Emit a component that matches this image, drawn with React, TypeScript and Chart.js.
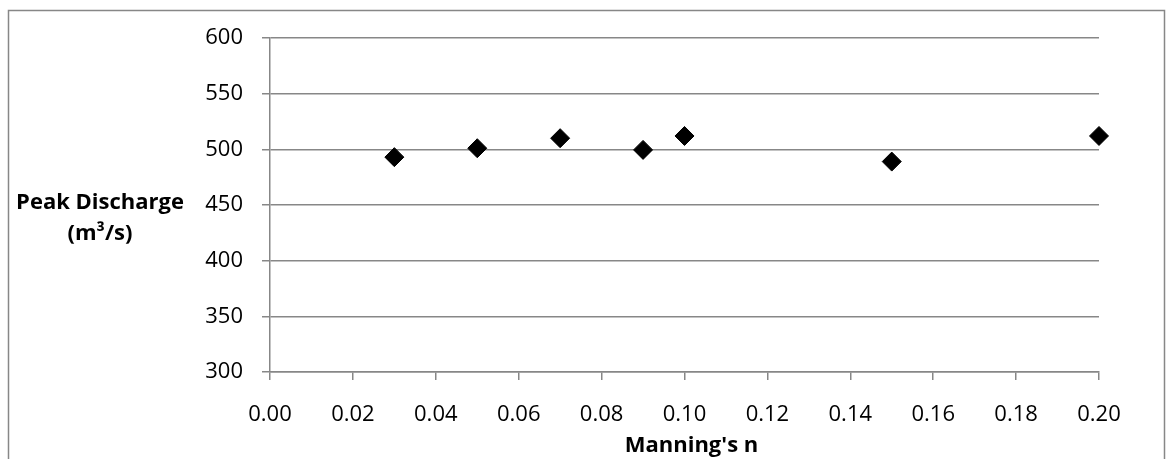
import React, { useEffect, useRef } from "react";
import { Chart, registerables } from "chart.js";

Chart.register(...registerables);

const manningN = [0.03, 0.05, 0.07, 0.09, 0.1, 0.15, 0.2];
const peakDischarge = [493, 501, 510, 499.5, 512, 489, 512];
const xTickValues = [0, 0.02, 0.04, 0.06, 0.08, 0.1, 0.12, 0.14, 0.16, 0.18, 0.2];
const xTickLabels = ["0.00", "0.02", "0.04", "0.06", "0.08", "0.10", "0.12", "0.14", "0.16", "0.18", "0.20"];
const yTickValues = [300, 350, 400, 450, 500, 550, 600];
const yTickLabels = ["300", "350", "400", "450", "500", "550", "600"];
const yTitleLines = ["Peak Discharge", "(m³/s)"];
const xTitle = "Manning's n";

const GRAY = "#878787";
const FONT = '"Open Sans", sans-serif';

const framePlugin = {
  id: "frameAndTitles",
  beforeDraw(chart: any) {
    const ctx = chart.ctx;
    ctx.save();
    ctx.fillStyle = "#ffffff";
    ctx.fillRect(0, 0, chart.width, chart.height);
    ctx.strokeStyle = GRAY;
    ctx.lineWidth = 1.5;
    ctx.beginPath();
    ctx.moveTo(8.5, 470);
    ctx.lineTo(8.5, 10.5);
    ctx.lineTo(1164.5, 10.5);
    ctx.lineTo(1164.5, 470);
    ctx.stroke();
    ctx.restore();
  },
  afterDraw(chart: any) {
    const ctx = chart.ctx;
    ctx.save();
    ctx.fillStyle = "#000000";
    ctx.font = `bold 22px ${FONT}`;
    ctx.textAlign = "center";
    ctx.textBaseline = "alphabetic";
    ctx.fillText(yTitleLines[0], 100, 209);
    ctx.fillText(yTitleLines[1], 100, 240);
    const area = chart.chartArea;
    ctx.fillText(xTitle, (area.left + area.right) / 2 + 7, 452);
    ctx.restore();
  },
};

export default function App() {
  const ref = useRef<HTMLCanvasElement | null>(null);
  useEffect(() => {
    if (!ref.current) return;
    const chart = new Chart(ref.current, {
      type: "scatter",
      data: {
        datasets: [
          {
            data: manningN.map((x, i) => ({ x, y: peakDischarge[i] })),
            pointStyle: "rectRot",
            pointRadius: 9.5,
            backgroundColor: "#000000",
            borderColor: "#000000",
            borderWidth: 1,
            showLine: false,
            clip: false,
          },
        ],
      },
      options: {
        animation: false,
        responsive: false,
        devicePixelRatio: 1,
        layout: { padding: { left: 0, top: 38, right: 69, bottom: 0 } },
        plugins: { legend: { display: false }, tooltip: { enabled: false } },
        scales: {
          x: {
            type: "linear",
            min: 0,
            max: 0.2,
            afterBuildTicks: (s: any) => {
              s.ticks = xTickValues.map((v) => ({ value: v }));
            },
            afterFit: (s: any) => {
              s.height = 87;
            },
            ticks: {
              autoSkip: false,
              maxRotation: 0,
              padding: 22,
              color: "#000000",
              font: { family: FONT, size: 22 },
              callback: (_v: any, i: number) => xTickLabels[i],
            },
            grid: {
              drawOnChartArea: false,
              drawTicks: true,
              tickLength: 8,
              color: GRAY,
              lineWidth: 1.5,
            },
            border: { display: true, color: GRAY, width: 1.5 },
          },
          y: {
            type: "linear",
            min: 300,
            max: 600,
            afterBuildTicks: (s: any) => {
              s.ticks = yTickValues.map((v) => ({ value: v }));
            },
            afterFit: (s: any) => {
              s.width = 270;
            },
            ticks: {
              autoSkip: false,
              padding: 19,
              color: "#000000",
              font: { family: FONT, size: 22 },
              callback: (_v: any, i: number) => yTickLabels[i],
            },
            grid: {
              drawOnChartArea: true,
              drawTicks: true,
              tickLength: 8,
              color: GRAY,
              lineWidth: 1.5,
            },
            border: { display: true, color: GRAY, width: 1.5 },
          },
        },
      },
      plugins: [framePlugin],
    });
    return () => chart.destroy();
  }, []);
  return (
    <div style={{ position: "absolute", left: 0, top: 0, width: 1168, height: 459, background: "#fff" }}>
      <canvas ref={ref} width={1168} height={459} style={{ display: "block" }} />
    </div>
  );
}
